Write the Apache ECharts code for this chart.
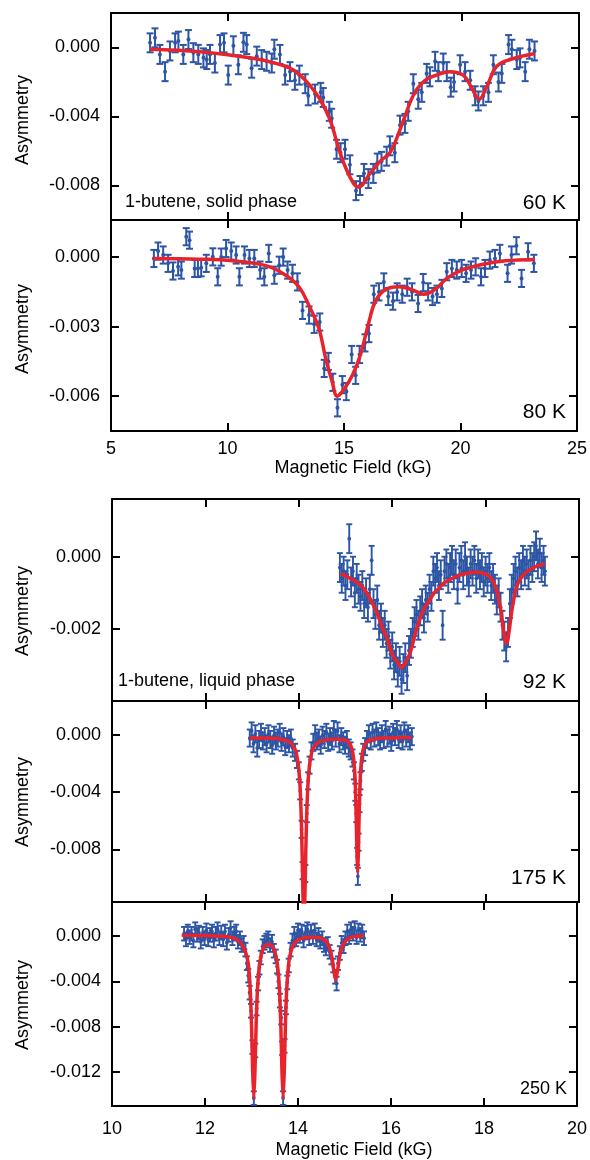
<!DOCTYPE html>
<html><head><meta charset="utf-8">
<script src="https://cdn.jsdelivr.net/npm/echarts@6/dist/echarts.min.js"></script>
<style>html,body{margin:0;padding:0;background:#fff}#c{width:590px;height:1160px}</style>
</head><body><div id="c"></div>
<script>
// ---------- DATA ----------
// 60 K (solid phase): [field kG, asymmetry]
const points60 = [[6.67,0.00027],[6.88,0.00056],[7.09,-0.0004],[7.31,-0.0014],[7.52,-0.0002],[7.74,0.00027],[7.88,0.00037],[8.09,-0.0004],[8.31,0.00046],[8.52,-0.0003],[8.73,-0.0004],[8.95,-0.0006],[9.09,-0.0007],[9.23,-0.0004],[9.44,-0.0009],[9.66,0.00017],[9.83,0.00027],[10.01,-0.0016],[10.23,0.0001],[10.44,-0.001],[10.66,0.0003],[10.80,0.00017],[11.01,-0.0012],[11.23,-0.0005],[11.44,-0.0007],[11.65,-0.0008],[11.87,-0.0009],[11.98,-0.0001],[12.22,-0.0004],[12.44,-0.0016],[12.65,-0.0014],[12.86,-0.0019],
[13.05,-0.0016],[13.30,-0.0021],[13.43,-0.0028],[13.72,-0.0027],[13.96,-0.0026],[14.07,-0.0029],[14.33,-0.0037],[14.43,-0.0041],[14.64,-0.0059],[14.81,-0.0061],[15.00,-0.0059],[15.21,-0.0068],[15.47,-0.0083],[15.64,-0.008],[15.81,-0.0073],[16.00,-0.0076],[16.21,-0.0073],[16.38,-0.0067],[16.56,-0.0066],[16.78,-0.0063],[16.92,-0.0057],[17.13,-0.0061],[17.35,-0.0045],[17.56,-0.0044],[17.70,-0.0037],[17.92,-0.0021],[18.13,-0.003],[18.28,-0.0026],[18.49,-0.0015],[18.63,-0.0017],[18.85,-0.0008],[18.99,-0.0014],[19.20,-0.0009],[19.35,-0.0014],[19.52,-0.0023],[19.66,-0.002],[19.92,-0.001],[20.13,-0.0014],[20.35,-0.0019],[20.56,-0.0028],[20.70,-0.0031],[20.91,-0.0028],[21.13,-0.0026],[21.34,-0.001],[21.56,-0.002],[21.70,-0.0015],[21.99,0.00017],[22.13,-0.0001],[22.34,-0.0007],[22.48,-0.0006],[22.70,-0.0014],[22.88,-0.0001],[23.10,-0.0002]];
const err60 = 0.00055;
const fit60 = [[6.67,-0.0001],[8.8,-0.00025],[10.94,-0.0006],[12.0,-0.0009],[12.65,-0.0012],[13.08,-0.0016],[13.5,-0.0022],[13.93,-0.003],[14.36,-0.0042],[14.79,-0.0061],[15.21,-0.0075],[15.57,-0.0081],[16.07,-0.0073],[16.5,-0.0066],[16.92,-0.0061],[17.2,-0.0053],[17.56,-0.004],[17.91,-0.0028],[18.34,-0.002],[18.91,-0.0016],[19.49,-0.0014],[20.05,-0.0016],[20.4,-0.0023],[20.73,-0.003],[21.05,-0.0023],[21.48,-0.0011],[22.05,-0.0007],[23.12,-0.00035]];

// 80 K
const points80 = [[6.84,-0.00006],[7.02,0.00026],[7.24,0.00009],[7.45,-0.00027],[7.66,-0.0006],[7.88,-0.00042],[8.02,-0.00056],[8.23,0.00088],[8.37,0.00073],[8.59,-0.00049],[8.73,-0.00049],[8.87,-0.00046],[9.09,-0.00027],[9.37,0.00001],[9.58,-0.00085],[9.73,0],[9.94,0.00037],[10.16,0.00026],[10.37,0.00009],[10.51,-0.00085],[10.73,0.00009],[10.94,-0.00006],[11.15,-0.00006],[11.4,-0.00056],[11.58,-0.00085],[11.77,0.00016],[12.01,-0.00078],[12.22,-0.00035],[12.39,0],[12.58,-0.00056],[12.79,-0.0007],[13.0,-0.00107],[13.22,-0.0023],[13.5,-0.0025],[13.72,-0.0029],[13.96,-0.0028],[14.15,-0.0048],[14.33,-0.0045],[14.52,-0.0054],[14.72,-0.0065],[14.93,-0.0055],[15.1,-0.0058],[15.33,-0.0042],[15.5,-0.0051],[15.67,-0.0042],[15.9,-0.0037],[16.07,-0.0033],[16.28,-0.0016],[16.5,-0.0015],[16.71,-0.00107],[16.9,-0.0017],[17.1,-0.0019],[17.28,-0.0015],[17.5,-0.0016],[17.71,-0.0013],[17.92,-0.0015],[18.18,-0.002],[18.4,-0.0011],[18.61,-0.0015],[18.8,-0.0017],[18.99,-0.0016],[19.2,-0.00135],[19.41,-0.00063],[19.63,-0.00049],[19.84,-0.00056],[20.05,-0.00049],[20.24,-0.0007],[20.45,-0.00056],[20.65,-0.00042],[20.88,-0.00085],[21.05,-0.00049],[21.26,-0.00013],[21.48,-0.00006],[21.69,0.00016],[22.02,-0.0007],[22.19,0.00009],[22.4,0.00049],[22.62,-0.00092],[22.9,0.00023],[23.15,-0.00027]];
const err80 = 0.00037;
const fit80 = [[6.81,-0.00006],[8.8,-0.00009],[10.22,-0.00016],[11.65,-0.00037],[12.5,-0.00078],[13.08,-0.0013],[13.5,-0.0021],[13.93,-0.0031],[14.22,-0.0044],[14.5,-0.0054],[14.71,-0.006],[15.0,-0.0057],[15.36,-0.0051],[15.71,-0.0042],[16.07,-0.0028],[16.35,-0.0019],[16.78,-0.0014],[17.35,-0.00128],[17.91,-0.0014],[18.42,-0.0016],[18.91,-0.0014],[19.41,-0.00092],[20.05,-0.00056],[20.91,-0.00032],[21.91,-0.00016],[23.19,-0.0001]];

// 92 K (liquid phase)
const points92 = [[14.88,-0.0003],[14.92,-0.0006],[14.96,-0.0004],[15.00,-0.0008],[15.04,-0.0005],[15.08,0.0005],[15.12,-0.0007],[15.16,-0.0004],[15.20,-0.001],[15.24,-0.0006],[15.28,-0.0009],[15.32,-0.0011],[15.36,-0.0008],[15.40,-0.0013],[15.44,-0.001],[15.48,-0.0014],[15.52,-0.0009],[15.56,-0.0001],[15.60,-0.0013],[15.64,-0.0016],[15.68,-0.0012],[15.72,-0.0019],[15.76,-0.0017],[15.80,-0.0021],[15.84,-0.0019],[15.88,-0.0024],[15.92,-0.0022],[15.96,-0.0027],[16.00,-0.0025],[16.04,-0.003],[16.08,-0.0028],[16.12,-0.0032],[16.16,-0.0029],[16.20,-0.0034],[16.24,-0.0031],[16.28,-0.0028],[16.32,-0.0033],[16.36,-0.0026],[16.40,-0.0024],[16.44,-0.0021],[16.48,-0.0018],[16.52,-0.0016],[16.56,-0.0019],[16.60,-0.0015],[16.64,-0.0013],[16.68,-0.0017],[16.72,-0.0012],[16.76,-0.0014],[16.80,-0.0009],[16.84,-0.0011],[16.88,-0.0004],[16.92,-0.0006],[16.96,-0.0003],[17.00,-0.0008],[17.04,-0.0005],[17.08,-0.0019],[17.12,-0.0004],[17.16,-0.0002],[17.20,-0.0006],[17.24,-0.0003],[17.28,-0.0001],[17.32,-0.0005],[17.36,-0.0002],[17.40,-0.0009],[17.44,-0.0003],[17.48,-0.0001],[17.52,-0.0005],[17.56,0.0000],[17.60,-0.0004],[17.64,-0.0007],[17.68,-0.0002],[17.72,-0.0004],[17.76,-0.0001],[17.80,-0.0006],[17.84,-0.0002],[17.88,-0.0005],[17.92,-0.0003],[17.96,-0.0007],[18.00,-0.0004],[18.04,-0.0006],[18.08,-0.0003],[18.12,-0.0008],[18.16,-0.0006],[18.20,-0.0009],[18.24,-0.0012],[18.28,-0.001],[18.32,-0.0014],[18.36,-0.0019],[18.40,-0.0022],[18.44,-0.0025],[18.48,-0.0021],[18.52,-0.0013],[18.56,-0.0009],[18.60,-0.0006],[18.64,-0.0004],[18.68,-0.0007],[18.72,-0.0003],[18.76,-0.0005],[18.80,-0.0001],[18.84,-0.0004],[18.88,-0.0002],[18.92,-0.0005],[18.96,-0.0001],[19.00,-0.0003],[19.04,0.0000],[19.08,0.0003],[19.12,-0.0002],[19.16,0.0001],[19.20,-0.0003],[19.24,-0.0001],[19.27,-0.0004]];
const err92 = 0.0004;
const fit92 = [[14.90,-0.00047],[15.00,-0.00053],[15.10,-0.0006],[15.20,-0.00067],[15.30,-0.00076],[15.40,-0.0009],[15.50,-0.0011],[15.60,-0.00135],[15.70,-0.00165],[15.80,-0.002],[15.90,-0.0023],[16.00,-0.0027],[16.10,-0.0029],[16.20,-0.00307],[16.30,-0.0029],[16.40,-0.0026],[16.50,-0.0021],[16.60,-0.0017],[16.70,-0.0014],[16.80,-0.0012],[16.90,-0.001],[17.00,-0.00088],[17.10,-0.00074],[17.20,-0.00066],[17.40,-0.00053],[17.60,-0.00046],[17.80,-0.00043],[17.95,-0.00046],[18.05,-0.00052],[18.15,-0.00066],[18.20,-0.0008],[18.25,-0.001],[18.30,-0.0013],[18.35,-0.0017],[18.40,-0.0022],[18.45,-0.0024],[18.50,-0.0021],[18.55,-0.0016],[18.60,-0.0012],[18.65,-0.0009],[18.70,-0.00072],[18.80,-0.00052],[18.90,-0.0004],[19.00,-0.00032],[19.10,-0.00026],[19.27,-0.0002]];

// 175 K
const points175 = [[12.95,-0.0002],[12.99,0.0003],[13.03,-0.0006],[13.07,0.0001],[13.11,-0.0009],[13.15,-0.0003],[13.19,0.0002],[13.23,-0.0004],[13.27,-0.0001],[13.31,-0.0006],[13.35,0.0001],[13.39,-0.0003],[13.43,-0.0007],[13.47,0.0000],[13.51,-0.0004],[13.55,-0.0002],[13.59,0.0002],[13.63,-0.0005],[13.67,-0.0001],[13.71,-0.0008],[13.75,-0.0003],[13.79,-0.0006],[13.83,-0.0002],[13.87,-0.0009],[13.92,-0.0012],[13.96,-0.0017],[14.00,-0.0025],[14.03,-0.0039],[14.06,-0.0066],[14.08,-0.0095],[14.10,-0.0125],[14.14,-0.0097],[14.17,-0.0055],[14.20,-0.0032],[14.23,-0.0021],[14.27,-0.0011],[14.31,-0.0005],[14.35,0.0001],[14.39,-0.0004],[14.43,-0.0002],[14.47,-0.0007],[14.51,0.0000],[14.55,-0.0003],[14.59,0.0002],[14.63,-0.0005],[14.67,-0.0001],[14.71,-0.0004],[14.75,0.0004],[14.79,-0.0002],[14.83,0.0003],[14.87,-0.0006],[14.91,-0.0001],[14.95,-0.0004],[14.99,-0.0007],[15.03,-0.0003],[15.07,-0.0009],[15.11,-0.0011],[15.15,-0.0016],[15.18,-0.0025],[15.21,-0.004],[15.23,-0.0055],[15.25,-0.0085],[15.265,-0.0099],[15.28,-0.0075],[15.30,-0.0048],[15.32,-0.0032],[15.35,-0.0019],[15.38,-0.0012],[15.42,-0.0008],[15.46,-0.0003],[15.50,0.0001],[15.54,-0.0004],[15.58,0.0002],[15.62,-0.0002],[15.66,0.0003],[15.70,-0.0001],[15.74,-0.0004],[15.78,0.0001],[15.82,-0.0003],[15.86,0.0004],[15.90,-0.0002],[15.94,0.0000],[15.98,-0.0005],[16.02,0.0002],[16.06,-0.0001],[16.10,0.0004],[16.14,-0.0003],[16.18,0.0001],[16.22,-0.0004],[16.26,0.0003],[16.30,-0.0002],[16.34,0.0001],[16.38,-0.0004],[16.42,-0.0001]];
const err175 = 0.0006;
const fit175 = [[12.95,-0.00017],[13.3,-0.0002],[13.6,-0.00027],[13.8,-0.00048],[13.9,-0.00085],[13.95,-0.0013],[14.0,-0.0024],[14.03,-0.0038],[14.05,-0.0055],[14.07,-0.0081],[14.09,-0.0114],[14.11,-0.0131],[14.13,-0.0114],[14.15,-0.0081],[14.17,-0.0055],[14.19,-0.0038],[14.22,-0.0024],[14.27,-0.0013],[14.32,-0.00087],[14.42,-0.0005],[14.6,-0.00031],[14.8,-0.00028],[14.95,-0.0003],[15.05,-0.00045],[15.12,-0.00078],[15.16,-0.0013],[15.19,-0.0022],[15.21,-0.0035],[15.23,-0.0059],[15.245,-0.0083],[15.26,-0.00965],[15.275,-0.0083],[15.29,-0.0059],[15.31,-0.0035],[15.33,-0.0022],[15.36,-0.0013],[15.40,-0.00078],[15.47,-0.00045],[15.57,-0.0003],[15.8,-0.0002],[16.1,-0.00017],[16.42,-0.00016]];

// 250 K
const points250 = [[11.55,0.0002],[11.59,-0.0003],[11.63,0.0004],[11.67,-0.0001],[11.71,0.0002],[11.75,-0.0004],[11.79,0.0006],[11.83,0.0001],[11.87,0.0003],[11.91,-0.0005],[11.95,0.0002],[11.99,-0.0002],[12.03,0.0005],[12.07,-0.0003],[12.11,0.0001],[12.15,0.0004],[12.19,-0.0004],[12.23,0.0002],[12.27,0.0006],[12.31,-0.0002],[12.35,0.0003],[12.39,-0.0003],[12.43,0.0004],[12.47,-0.0006],[12.51,0.0001],[12.55,0.0007],[12.59,-0.0002],[12.63,0.0002],[12.67,0.0004],[12.71,-0.0005],[12.75,-0.0002],[12.79,-0.0008],[12.83,-0.0006],[12.87,-0.0012],[12.90,-0.0024],[12.93,-0.0035],[12.96,-0.005],[12.99,-0.0066],[13.02,-0.0098],[13.05,-0.0143],[13.08,-0.0101],[13.11,-0.0064],[13.14,-0.0042],[13.17,-0.0028],[13.20,-0.0019],[13.24,-0.0009],[13.28,-0.0006],[13.32,-0.0004],[13.36,-0.0002],[13.40,-0.0008],[13.44,-0.0005],[13.48,-0.0013],[13.52,-0.0018],[13.55,-0.0027],[13.58,-0.004],[13.61,-0.0057],[13.64,-0.0072],[13.66,-0.0099],[13.68,-0.0143],[13.71,-0.0097],[13.74,-0.0063],[13.77,-0.0041],[13.80,-0.0026],[13.84,-0.0012],[13.88,-0.0004],[13.92,0.0002],[13.96,-0.0003],[14.00,0.0005],[14.04,0.0000],[14.08,0.0004],[14.12,-0.0004],[14.16,0.0003],[14.20,0.0006],[14.24,-0.0002],[14.28,0.0004],[14.32,-0.0001],[14.36,0.0005],[14.40,-0.0003],[14.44,0.0001],[14.48,-0.0005],[14.52,-0.0002],[14.56,-0.0008],[14.60,-0.0011],[14.64,-0.0007],[14.68,-0.0014],[14.72,-0.0019],[14.76,-0.0026],[14.80,-0.0036],[14.83,-0.0042],[14.86,-0.0024],[14.90,-0.0015],[14.94,-0.0006],[14.98,-0.0009],[15.02,-0.0002],[15.06,0.0004],[15.10,-0.0001],[15.14,0.0006],[15.18,0.0002],[15.22,0.0007],[15.26,-0.0001],[15.30,0.0005],[15.34,0.0001],[15.38,0.0004],[15.42,-0.0002]];
const err250 = 0.0006;
const fit250 = [[11.5,0.00007],[12.0,0.00005],[12.4,-0.00003],[12.6,-0.00016],[12.72,-0.0004],[12.8,-0.0008],[12.87,-0.0014],[12.93,-0.0024],[12.97,-0.0045],[13.0,-0.0078],[13.025,-0.0119],[13.05,-0.0143],[13.075,-0.0119],[13.10,-0.0078],[13.13,-0.0046],[13.18,-0.0023],[13.25,-0.0011],[13.31,-0.0008],[13.365,-0.00074],[13.42,-0.0008],[13.48,-0.0011],[13.55,-0.0023],[13.60,-0.0046],[13.63,-0.0078],[13.655,-0.0119],[13.68,-0.0143],[13.705,-0.0119],[13.73,-0.0078],[13.76,-0.0045],[13.81,-0.0021],[13.88,-0.00097],[13.98,-0.0004],[14.1,-0.00019],[14.3,-0.00011],[14.5,-0.0002],[14.6,-0.00046],[14.67,-0.00093],[14.72,-0.0017],[14.76,-0.0028],[14.81,-0.0039],[14.86,-0.0028],[14.90,-0.0017],[14.95,-0.00093],[15.02,-0.00046],[15.12,-0.00015],[15.25,-0.00003],[15.42,0.00003]];

// Tick values
const xTicksTop = [5, 25, 5];       // min, max, interval (solid phase panels)
const xTicksBottom = [10, 20, 2];   // min, max, interval (liquid phase panels)
const yTicks60 = [-0.008, -0.004, 0];
const yTicks80 = [-0.006, -0.003, 0];
const yTicks92 = [-0.002, 0];
const yTicks175 = [-0.008, -0.004, 0];
const yTicks250 = [-0.012, -0.008, -0.004, 0];

// ---------- CHART ----------
const BLUE = '#2d55a6', RED = '#e8232b', BLACK = '#000';
const FONT = '"Liberation Sans", Arial, Helvetica, sans-serif';

const panels = [
  {pts: points60, err: err60, fit: fit60, xs: xTicksTop, yr: [-0.010, 0.002], yt: yTicks60, left: 111, top: 13, w: 468, h: 207, xlab: false, cap: 3.5, lw: 2, sm: 0.4},
  {pts: points80, err: err80, fit: fit80, xs: xTicksTop, yr: [-0.0075, 0.0016], yt: yTicks80, left: 111, top: 220, w: 468, h: 211, xlab: true, margin: 9, cap: 3.5, lw: 2, sm: 0.4},
  {pts: points92, err: err92, fit: fit92, xs: xTicksBottom, yr: [-0.004, 0.0016], yt: yTicks92, left: 112, top: 499, w: 467, h: 202, xlab: false, cap: 3, lw: 1.9, sm: 0.4},
  {pts: points175, err: err175, fit: fit175, xs: xTicksBottom, yr: [-0.0117, 0.0024], yt: yTicks175, left: 112, top: 701, w: 467, h: 201, xlab: false, cap: 3, lw: 1.9, sm: 0.2},
  {pts: points250, err: err250, fit: fit250, xs: xTicksBottom, yr: [-0.015, 0.003], yt: yTicks250, left: 112, top: 902, w: 467, h: 204, xlab: true, margin: 14, cap: 3, lw: 1.9, sm: 0.2}
];

function errRender(cap, lw) {
  return function (params, api) {
    const x = api.value(0), y = api.value(1), e = api.value(2);
    const p = api.coord([x, y]), t = api.coord([x, y + e]), b = api.coord([x, y - e]);
    const st = {stroke: BLUE, lineWidth: lw};
    return {type: 'group', children: [
      {type: 'line', shape: {x1: p[0], y1: t[1], x2: p[0], y2: b[1]}, style: st},
      {type: 'line', shape: {x1: p[0] - cap, y1: t[1], x2: p[0] + cap, y2: t[1]}, style: st},
      {type: 'line', shape: {x1: p[0] - cap, y1: b[1], x2: p[0] + cap, y2: b[1]}, style: st},
      {type: 'circle', shape: {cx: p[0], cy: p[1], r: lw}, style: {fill: BLUE}}
    ]};
  };
}

const axLine = {show: true, onZero: false, lineStyle: {color: BLACK, width: 2}};
const tickStyle = {color: BLACK, width: 2};
const labelBase = {color: BLACK, fontSize: 18, fontFamily: FONT};

const grid = [], xAxis = [], yAxis = [], series = [];
panels.forEach((P, i) => {
  grid.push({left: P.left, top: P.top, width: P.w, height: P.h, containLabel: false});
  xAxis.push({gridIndex: i, type: 'value', position: 'bottom', min: P.xs[0], max: P.xs[1], interval: P.xs[2],
    axisLine: axLine, axisTick: {show: true, inside: true, length: 8, lineStyle: tickStyle},
    axisLabel: Object.assign({show: P.xlab, margin: P.margin || 8, showMinLabel: true, showMaxLabel: true}, labelBase),
    splitLine: {show: false}});
  xAxis.push({gridIndex: i, type: 'value', position: 'top', min: P.xs[0], max: P.xs[1], interval: P.xs[2],
    axisLine: axLine, axisTick: {show: true, inside: true, length: 8, lineStyle: tickStyle},
    axisLabel: {show: false}, splitLine: {show: false}});
  yAxis.push({gridIndex: i, type: 'value', position: 'left', min: P.yr[0], max: P.yr[1],
    axisLine: axLine, axisTick: {show: true, inside: true, length: 8, lineStyle: tickStyle, customValues: P.yt},
    axisLabel: Object.assign({show: true, margin: 11, customValues: P.yt, formatter: v => (Math.abs(v) < 1e-12 ? 0 : v).toFixed(3)}, labelBase),
    splitLine: {show: false}});
  yAxis.push({gridIndex: i, type: 'value', position: 'right', min: P.yr[0], max: P.yr[1],
    axisLine: axLine, axisTick: {show: true, inside: true, length: 8, lineStyle: tickStyle, customValues: P.yt},
    axisLabel: {show: false}, splitLine: {show: false}});
  series.push({type: 'custom', xAxisIndex: 2 * i, yAxisIndex: 2 * i, clip: true, z: 2,
    renderItem: errRender(P.cap, P.lw),
    data: P.pts.map(d => [d[0], d[1], P.err])});
  series.push({type: 'line', xAxisIndex: 2 * i, yAxisIndex: 2 * i, data: P.fit, clip: true, z: 3,
    symbol: 'none', showSymbol: false, smooth: P.sm,
    lineStyle: {color: RED, width: 3.5}});
});

function txt(s, x, y, size, align, rot) {
  return {type: 'text', x: x, y: y, rotation: rot || 0, z: 10,
    style: {text: s, fill: BLACK, font: size + 'px ' + FONT, textAlign: align, textVerticalAlign: 'middle', align: align, verticalAlign: 'middle'}};
}

const graphic = [
  txt('Asymmetry', 23, 120, 18, 'center', Math.PI / 2),
  txt('Asymmetry', 23, 329, 18, 'center', Math.PI / 2),
  txt('Asymmetry', 23, 611, 18, 'center', Math.PI / 2),
  txt('Asymmetry', 23, 802, 18, 'center', Math.PI / 2),
  txt('Asymmetry', 23, 1005, 18, 'center', Math.PI / 2),
  txt('Magnetic Field (kG)', 353, 468, 18, 'center'),
  txt('Magnetic Field (kG)', 354, 1150, 18, 'center'),
  txt('1-butene, solid phase', 125, 202, 18, 'left'),
  txt('60 K', 566, 203, 21, 'right'),
  txt('80 K', 566, 412, 21, 'right'),
  txt('1-butene, liquid phase', 118, 681, 18, 'left'),
  txt('92 K', 566, 682, 21, 'right'),
  txt('175 K', 566, 878, 21, 'right'),
  txt('250 K', 567, 1089, 18, 'right')
];

const chart = echarts.init(document.getElementById('c'), null, {renderer: 'canvas'});
chart.setOption({animation: false, backgroundColor: '#fff', grid, xAxis, yAxis, series, graphic});
</script>
</body></html>
